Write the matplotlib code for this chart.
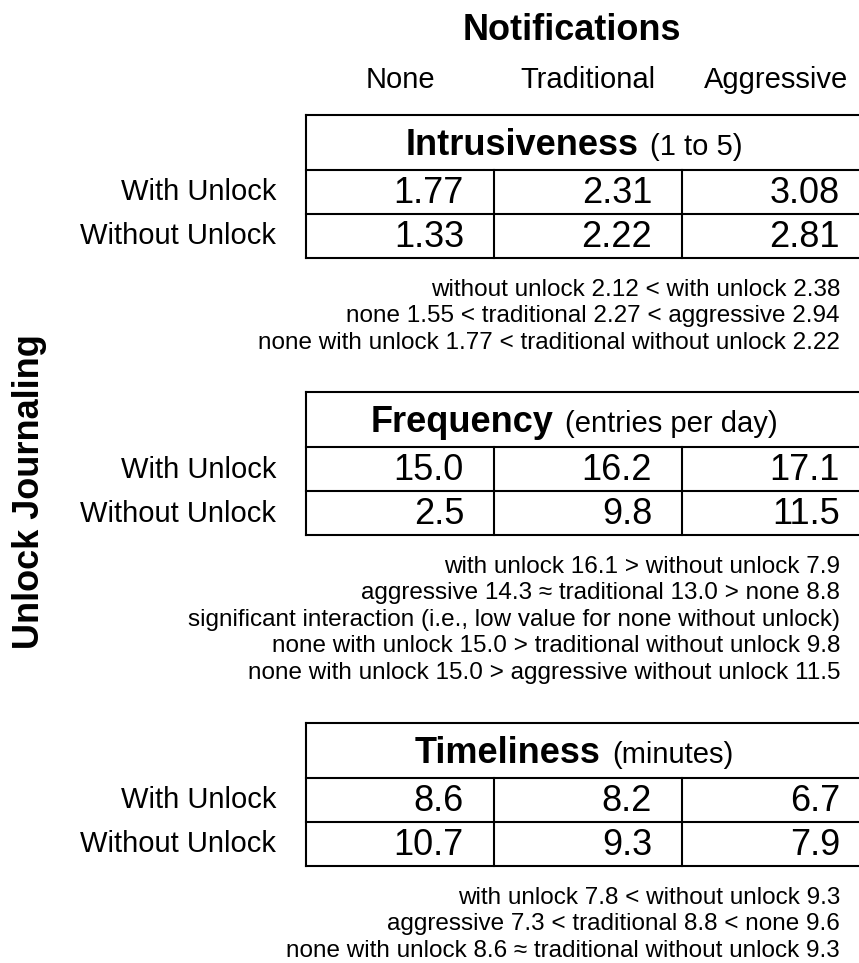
import matplotlib
matplotlib.use("Agg")
import matplotlib.pyplot as plt

# ---------------- data ----------------
notif_levels = ["None", "Traditional", "Aggressive"]
unlock_levels = ["With Unlock", "Without Unlock"]

measure_names = ["Intrusiveness", "Frequency", "Timeliness"]
measure_units = ["(1 to 5)", "(entries per day)", "(minutes)"]

intrusiveness_with = ["1.77", "2.31", "3.08"]
intrusiveness_without = ["1.33", "2.22", "2.81"]
frequency_with = ["15.0", "16.2", "17.1"]
frequency_without = ["2.5", "9.8", "11.5"]
timeliness_with = ["8.6", "8.2", "6.7"]
timeliness_without = ["10.7", "9.3", "7.9"]

intrusiveness_notes = [
    "without unlock 2.12 < with unlock 2.38",
    "none 1.55 < traditional 2.27 < aggressive 2.94",
    "none with unlock 1.77 < traditional without unlock 2.22",
]
frequency_notes = [
    "with unlock 16.1 > without unlock 7.9",
    "aggressive 14.3 \u2248 traditional 13.0 > none 8.8",
    "significant interaction (i.e., low value for none without unlock)",
    "none with unlock 15.0 > traditional without unlock 9.8",
    "none with unlock 15.0 > aggressive without unlock 11.5",
]
timeliness_notes = [
    "with unlock 7.8 < without unlock 9.3",
    "aggressive 7.3 < traditional 8.8 < none 9.6",
    "none with unlock 8.6 \u2248 traditional without unlock 9.3",
]

tables = [
    (measure_names[0], measure_units[0], [intrusiveness_with, intrusiveness_without], intrusiveness_notes),
    (measure_names[1], measure_units[1], [frequency_with, frequency_without], frequency_notes),
    (measure_names[2], measure_units[2], [timeliness_with, timeliness_without], timeliness_notes),
]

# ---------------- layout ----------------
W, H = 859, 963
FONT = ["Liberation Sans", "DejaVu Sans"]
plt.rcParams["font.family"] = FONT

fig = plt.figure(figsize=(W / 100, H / 100), dpi=100)
ax = fig.add_axes([0, 0, 1, 1])
ax.set_xlim(0, W)
ax.set_ylim(H, 0)
ax.axis("off")

table_tops = [115, 392, 723]
x_left = 306
col_w = 188
title_h = 55
row_h = 44
lw = 1.5
title_center_x = 574
label_right = 276
note_right = 840
note_gap = 26.5

renderer = fig.canvas.get_renderer()


def text_width(t):
    bb = t.get_window_extent(renderer=renderer)
    return bb.width


# headers
ax.text(572, 40, "Notifications", fontsize=26, fontweight="bold", ha="center", va="baseline")
for i, lvl in enumerate(notif_levels):
    ax.text(x_left + col_w * (i + 0.5), 88, lvl, fontsize=21, ha="center", va="baseline")

ax.text(30, 492, "Unlock Journaling", fontsize=26, fontweight="bold", rotation=90,
        ha="center", va="center")

for top, (name, unit, rows, notes) in zip(table_tops, tables):
    x_right = x_left + 3 * col_w
    y_title = top + title_h
    y_r1 = y_title + row_h
    y_r2 = y_r1 + row_h
    # horizontal lines
    for y in (top, y_title, y_r1, y_r2):
        ax.plot([x_left, x_right], [y, y], color="black", lw=lw, solid_capstyle="projecting")
    # vertical lines
    ax.plot([x_left, x_left], [top, y_r2], color="black", lw=lw)
    for j in (1, 2):
        xx = x_left + j * col_w
        ax.plot([xx, xx], [y_title, y_r2], color="black", lw=lw)
    ax.plot([x_right, x_right], [top, y_r2], color="black", lw=lw)

    # title: bold name + regular unit
    base = top + title_h / 2 + 12.5
    t1 = ax.text(0, base, name, fontsize=26, fontweight="bold", ha="left", va="baseline")
    t2 = ax.text(0, base, unit, fontsize=21, ha="left", va="baseline")
    w1 = text_width(t1)
    w2 = text_width(t2)
    gap = 12
    start = title_center_x - (w1 + gap + w2) / 2
    t1.set_x(start)
    t2.set_x(start + w1 + gap)

    # rows
    for r, (lab, vals) in enumerate(zip(unlock_levels, rows)):
        yc = y_title + row_h * (r + 0.5) - 2
        ax.text(label_right, yc + 10.5, lab, fontsize=21, ha="right", va="baseline")
        for j, v in enumerate(vals):
            ax.text(x_left + (j + 1) * col_w - 30, yc + 13, v, fontsize=26,
                    ha="right", va="baseline")

    # notes
    for k, note in enumerate(notes):
        yc = y_r2 + 29 + k * note_gap
        ax.text(note_right, yc + 8.7, note, fontsize=17.5, ha="right", va="baseline")

fig.savefig("out.png", dpi=100)
